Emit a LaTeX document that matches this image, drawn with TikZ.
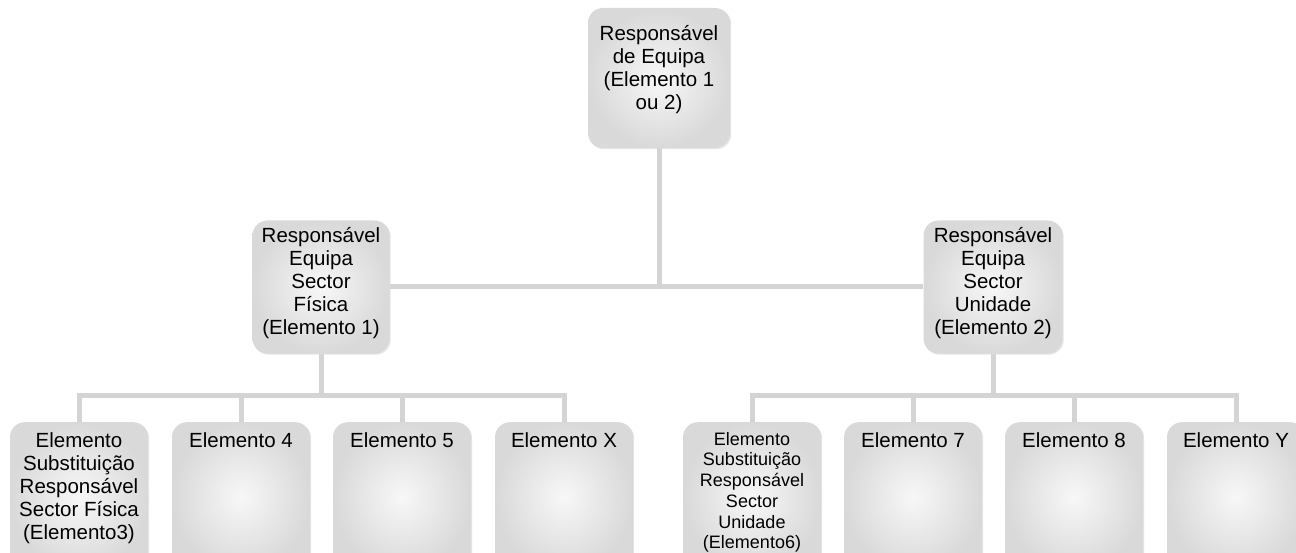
\documentclass[tikz,border=0pt]{standalone}
\usepackage{fontspec}
\setmainfont{Liberation Sans}
\usetikzlibrary{shadows}
\begin{document}
\begin{tikzpicture}[x=1pt,y=-1pt,
  box/.style={rounded corners=15pt, draw=none, inner color=black!3, outer color=black!15,
    drop shadow={shadow xshift=1.2pt, shadow yshift=-1.2pt, opacity=0.2, fill=black!50}},
  txt/.style={align=center, font=\fontsize{20.5}{23}\selectfont, text=black, inner sep=0pt},
  txts/.style={align=center, font=\fontsize{18}{20.7}\selectfont, text=black, inner sep=0pt},
  conn/.style={draw=black!17, line width=5pt}
]
\useasboundingbox (0,0) rectangle (1296,553);
\clip (0,0) rectangle (1296,553);
\fill[white] (0,0) rectangle (1296,553);

\coordinate (jt) at (659,288);
\coordinate (lb) at (321,395);
\coordinate (rb) at (993,395);

% top
\node[box, minimum width=142pt, minimum height=140pt] (top) at (659,78) {};
\node[txt] (ttop) at (659,70) {Responsável\\de Equipa\\(Elemento 1\\ou 2)};

% middle
\node[box, minimum width=137pt, minimum height=133pt] (ml) at (321,287) {};
\node[txt] (tml) at (321,283) {Responsável\\Equipa\\Sector\\Física\\(Elemento 1)};
\node[box, minimum width=139pt, minimum height=133pt] (mr) at (993,287) {};
\node[txt] (tmr) at (993,283) {Responsável\\Equipa\\Sector\\Unidade\\(Elemento 2)};

% bottom boxes
\foreach \n/\x in {b1/79,b2/241,b3/402,b4/564,b5/752,b6/913,b7/1074,b8/1236}{
  \node[box, minimum width=138pt, minimum height=150pt, anchor=north] (\n) at (\x,422) {};
}
\node[txt, anchor=north] (tb1) at (b1.north) [yshift=-10pt] {Elemento\\Substituição\\Responsável\\Sector Física\\(Elemento3)};
\node[txt, anchor=north] (tb2) at (b2.north) [yshift=-10pt] {Elemento 4};
\node[txt, anchor=north] (tb3) at (b3.north) [yshift=-10pt] {Elemento 5};
\node[txt, anchor=north] (tb4) at (b4.north) [yshift=-10pt] {Elemento X};
\node[txts, anchor=north] (tb5) at (b5.north) [yshift=-10pt] {Elemento\\Substituição\\Responsável\\Sector\\Unidade\\(Elemento6)};
\node[txt, anchor=north] (tb6) at (b6.north) [yshift=-10pt] {Elemento 7};
\node[txt, anchor=north] (tb7) at (b7.north) [yshift=-10pt] {Elemento 8};
\node[txt, anchor=north] (tb8) at (b8.north) [yshift=-10pt] {Elemento Y};

% connectors
\draw[conn] (top.south) -- (jt);
\draw[conn] (ml.east) -- (mr.west);
\draw[conn] (ml.south) -- (lb);
\draw[conn] (mr.south) -- (rb);
\draw[conn] (b1.north) |- (lb) -| (b4.north);
\draw[conn] (b2.north) -- (b2.north |- lb);
\draw[conn] (b3.north) -- (b3.north |- lb);
\draw[conn] (b5.north) |- (rb) -| (b8.north);
\draw[conn] (b6.north) -- (b6.north |- rb);
\draw[conn] (b7.north) -- (b7.north |- rb);
\end{tikzpicture}
\end{document}
